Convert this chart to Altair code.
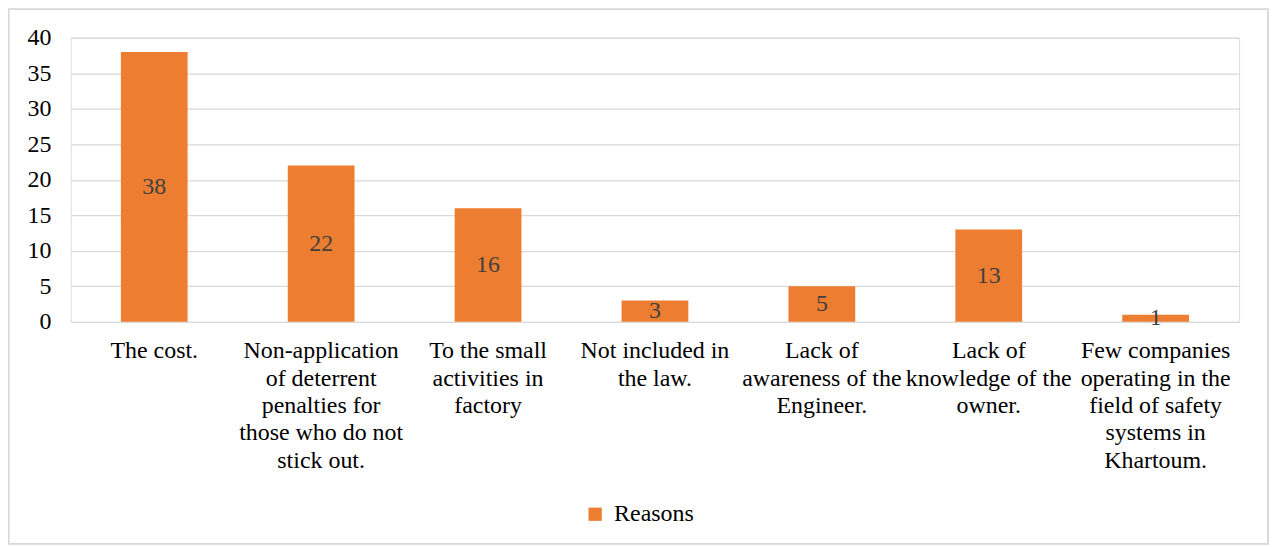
import altair as alt
import pandas as pd

categories = [
    "The cost.",
    "Non-application|of deterrent|penalties for|those who do not|stick out.",
    "To the small|activities in|factory",
    "Not included in|the law.",
    "Lack of|awareness of the|Engineer.",
    "Lack of|knowledge of the|owner.",
    "Few companies|operating in the|field of safety|systems in|Khartoum.",
]
values = [38, 22, 16, 3, 5, 13, 1]
series = "Reasons"
y_ticks = [0, 5, 10, 15, 20, 25, 30, 35, 40]

df = pd.DataFrame({"category": categories, "value": values, "series": [series] * len(values)})

W, H = 1172, 285
PAD_L, PAD_T, PAD_R, PAD_B = 63, 29, 30, 224
FONT = "Liberation Serif"

x_axis = alt.Axis(
    labelExpr="split(datum.label, '|')",
    labelAngle=0,
    labelAlign="center",
    labelBaseline="top",
    labelFontSize=24,
    labelLineHeight=27.5,
    labelPadding=17,
    labelLimit=0,
    labelOverlap=False,
    labelColor="#000000",
    labelFont=FONT,
    domain=False,
    ticks=False,
    grid=False,
)
y_axis = alt.Axis(
    values=y_ticks,
    labelFontSize=24,
    labelPadding=20,
    labelOverlap=False,
    labelColor="#000000",
    labelFont=FONT,
    domain=False,
    ticks=False,
    grid=True,
    gridColor="#d9d9d9",
    gridWidth=1.3,
)
x_scale = alt.Scale(paddingInner=0.6, paddingOuter=0.3)
y_scale = alt.Scale(domain=[0, 40], nice=False)

bars = alt.Chart(df).mark_bar(color="#ED7D31").encode(
    x=alt.X("category:N", sort=categories, title=None, scale=x_scale, axis=x_axis),
    y=alt.Y("value:Q", title=None, scale=y_scale, axis=y_axis),
    color=alt.Color(
        "series:N",
        scale=alt.Scale(range=["#ED7D31"]),
        legend=alt.Legend(
            title=None,
            orient="none",
            legendX=514,
            legendY=466,
            symbolType="square",
            symbolSize=177,
            symbolStrokeWidth=0,
            symbolOpacity=1,
            labelFontSize=24,
            labelFont=FONT,
            labelColor="#000000",
            labelOffset=7,
            padding=0,
        ),
    ),
)

labels = alt.Chart(df).transform_calculate(mid="datum.value / 2").mark_text(
    fontSize=24, font=FONT, color="#404040", baseline="middle", align="center"
).encode(
    x=alt.X("category:N", sort=categories, title=None, scale=x_scale, axis=x_axis),
    y=alt.Y("mid:Q", title=None, scale=y_scale, axis=y_axis),
    text=alt.Text("value:Q"),
)

frame = alt.Chart(df).mark_rect(
    fill="transparent", stroke="#d9d9d9", strokeWidth=1.3, clip=False
).encode(
    x=alt.value(-62.5),
    x2=alt.value(W + PAD_R - 1),
    y=alt.value(-28.5),
    y2=alt.value(H + PAD_B - 1.5),
)

chart = (
    alt.layer(frame, bars, labels)
    .properties(
        width=W,
        height=H,
        autosize=alt.AutoSizeParams(type="none"),
        padding={"left": PAD_L, "top": PAD_T, "right": PAD_R, "bottom": PAD_B},
    )
    .configure_view(strokeWidth=0)
    .configure(font=FONT, background="white")
)

chart.save("out.html", embed_options={"renderer": "svg", "actions": False})
